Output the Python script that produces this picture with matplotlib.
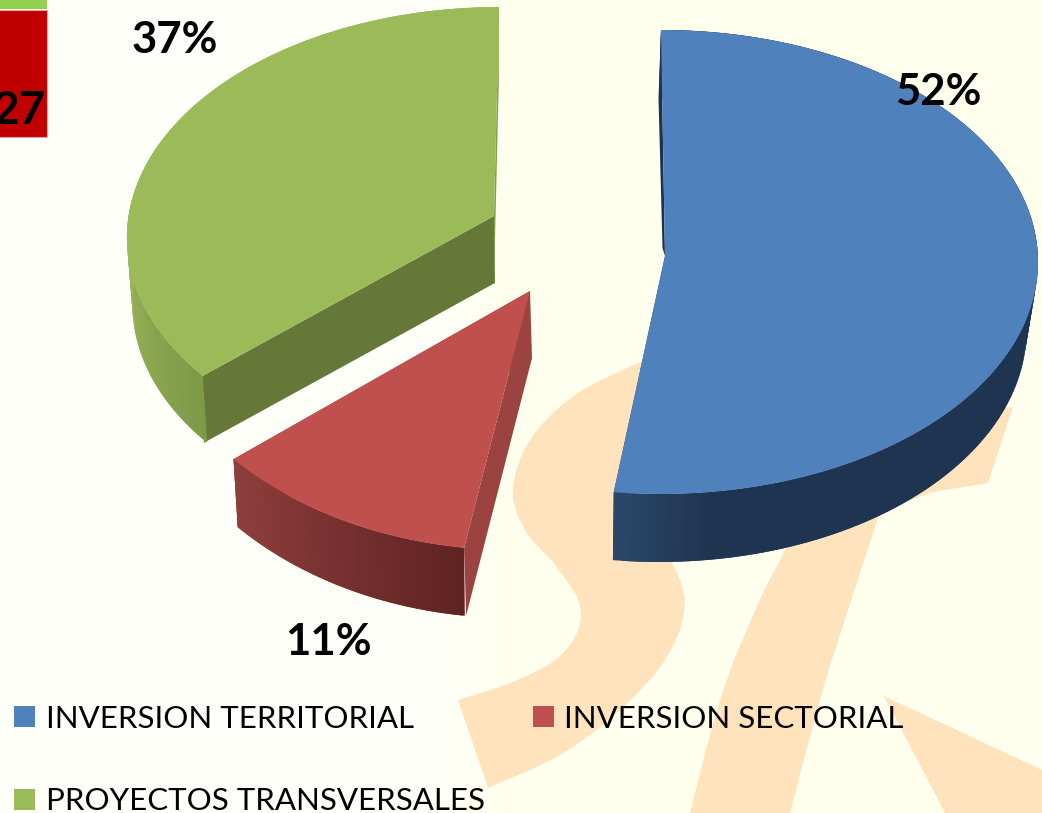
import numpy as np
import matplotlib
matplotlib.use("Agg")
import matplotlib.pyplot as plt
from matplotlib.colors import to_rgb
from matplotlib.patches import Polygon, Rectangle

# data
categories = ["INVERSION TERRITORIAL", "INVERSION SECTORIAL", "PROYECTOS TRANSVERSALES"]
values = [52, 11, 37]
box_value = "27"

# colours per slice
top_colors = ["#4f81bd", "#c0504d", "#9bbb59"]
start_face_colors = ["#1c324e", "#9a4341", "#667838"]
end_face_colors = ["#2a4666", "#9a4341", "#84a04a"]
wall_from = ["#2b4768", "#5f2322", "#7e9a48"]
wall_to = ["#1f3450", "#8f3f3d", "#9fbb5d"]
wall_span = [14, 40, 44]

# layout per slice, in pixels of the 1042x813 picture
centre_x = [661, 512, 496]
centre_y = [262, 262, 208]
radius_x = [377, 382, 366]
radius_y = [232, 288, 225]
persp = [0.0, 0.0, 0.12]
shear = [0.0, 0.0, 0.015]
apex_x = [665, 530, 494]
apex_y = [256, 291, 216]
depth = [68, 68, 67]
inset = [0.975, 0.985, 0.985]
shift_x = [-2, 0, 0]
face_shift = [-2.5, 2, 1]
apex_drop = [-8, 67, 67]
draw_order = [2, 1, 0]

fig = plt.figure(figsize=(10.42, 8.13), dpi=100)
ax = fig.add_axes([0, 0, 1, 1])
ax.set_xlim(0, 1042)
ax.set_ylim(813, 0)
ax.axis("off")

# page background, a little whiter on the left
grad = np.clip((np.arange(1042) - 430) / 80, 0, 1)
bg = np.ones((1, 1042, 3))
bg[0, :, 2] = (250 - 12 * grad) / 255
ax.imshow(bg, extent=(0, 1042, 813, 0), aspect="auto", zorder=0)


def catmull(points, n=16):
    p = np.array(points, dtype=float)
    p = np.vstack([p[0], p, p[-1]])
    out = []
    for i in range(1, len(p) - 2):
        for t in np.linspace(0, 1, n, endpoint=False):
            out.append(0.5 * (2 * p[i] + (p[i + 1] - p[i - 1]) * t
                              + (2 * p[i - 1] - 5 * p[i] + 4 * p[i + 1] - p[i + 2]) * t ** 2
                              + (3 * p[i] - p[i - 1] - 3 * p[i + 1] + p[i + 2]) * t ** 3))
    out.append(p[-2])
    return np.array(out)


# watermark letters behind the pie
peach = "#fee3bd"
s_left = catmull([(640, 362), (575, 395), (530, 440), (513, 490), (525, 530), (555, 565),
                  (578, 600), (578, 630), (555, 660), (510, 683), (458, 700)])
s_right = catmull([(488, 788), (560, 755), (620, 710), (665, 660), (684, 613), (678, 575),
                   (650, 530), (618, 495)])
ax.add_patch(Polygon(np.vstack([s_left, s_right, [(700, 360)]]), fc=peach, ec="none", zorder=1))
band_left = catmull([(690, 813), (720, 700), (754, 613), (790, 540), (850, 420)])
band_right = catmull([(880, 512), (847, 613), (820, 700), (790, 813)])
ax.add_patch(Polygon(np.vstack([band_left, [(1013, 407), (988, 483), (933, 492)], band_right]),
                     fc=peach, ec="none", zorder=1))
ax.add_patch(Polygon([(884, 696), (1042, 770), (1042, 813), (945, 813)], fc=peach, ec="none", zorder=1))

# slice angles, clockwise from twelve o'clock
edges = np.cumsum([0] + values) / sum(values) * 2 * np.pi


def rim(i, theta):
    u, v = np.sin(theta), np.cos(theta)
    w = 1 + persp[i] * v
    y_off = radius_y[i] * v / w
    x = centre_x[i] + radius_x[i] * u / w + shear[i] * y_off
    y = centre_y[i] - y_off
    return x, y


def lower(i, x, y):
    return centre_x[i] + (x - centre_x[i]) * inset[i] + shift_x[i], y + depth[i]


z = 2
for i in draw_order:
    t0, t1 = edges[i], edges[i + 1]
    px, py = apex_x[i], apex_y[i]

    # both cut faces go first, the wall and the top hide what should not show
    sx, sy = rim(i, t0)
    ax.add_patch(Polygon([(px, py), (sx, sy), (sx + face_shift[i], sy + depth[i]),
                          (px + face_shift[i], py + apex_drop[i])],
                         fc=start_face_colors[i], ec="none", zorder=z))
    ex, ey = rim(i, t1)
    lx, ly = lower(i, ex, ey)
    ax.add_patch(Polygon([(px, py), (ex, ey), (lx, ly), (px, py + depth[i])],
                         fc=end_face_colors[i], ec="none", zorder=z))

    # outer wall in small overlapping strips, shaded from the lit end
    thetas = np.linspace(t0, t1, 140)
    start = t1 if i == 0 else t0
    c0, c1 = np.array(to_rgb(wall_from[i])), np.array(to_rgb(wall_to[i]))
    if i == 0:
        thetas = thetas[::-1]
    for k in range(len(thetas) - 1):
        a, b = thetas[k], thetas[min(k + 2, len(thetas) - 1)]
        f = min(abs(a - start) / np.radians(wall_span[i]), 1)
        col = c0 + (c1 - c0) * f
        xa, ya = rim(i, a)
        xb, yb = rim(i, b)
        ax.add_patch(Polygon([(xa, ya), (xb, yb), lower(i, xb, yb), lower(i, xa, ya)],
                             fc=col, ec="none", zorder=z + 0.1 + k * 1e-4))

    # top of the slice
    ts = np.linspace(t0, t1, 200)
    xs, ys = rim(i, ts)
    ax.add_patch(Polygon(np.column_stack([np.r_[px, xs], np.r_[py, ys]]),
                         fc=top_colors[i], ec="none", zorder=z + 0.5))
    z += 1

# percentage labels
label_x = [938, 328, 175]
label_y = [105, 655, 53]
for v, x, y in zip(values, label_x, label_y):
    ax.text(x, y, f"{v}%", fontsize=31.5, fontweight="bold", family="Lato", color="black",
            ha="center", va="baseline", zorder=10)

# legend
swatch_x = [14, 533, 14]
swatch_y = [706, 706, 789]
legend_text_x = [46, 564, 46]
legend_text_y = [728, 728, 810]
for cat, col, sxx, syy, tx, ty in zip(categories, top_colors, swatch_x, swatch_y, legend_text_x, legend_text_y):
    ax.add_patch(Rectangle((sxx, syy), 21, 21, fc=col, ec="none", zorder=10))
    ax.text(tx, ty, cat, fontsize=22.5, family="Lato", color="black", ha="left", va="baseline", zorder=10)

# leftover box from the slide at the top-left corner
ax.add_patch(Rectangle((0, 0), 47, 9, fc="#92d050", ec="none", zorder=10))
ax.add_patch(Rectangle((-2, 10), 49, 127, fc="#c00000", ec="#e8a0a0", lw=0.8, zorder=10))
ax.text(45, 124, box_value, fontsize=33, fontweight="bold", family="Lato", color="black",
        ha="right", va="baseline", zorder=11)

fig.savefig("out.png", dpi=100)
